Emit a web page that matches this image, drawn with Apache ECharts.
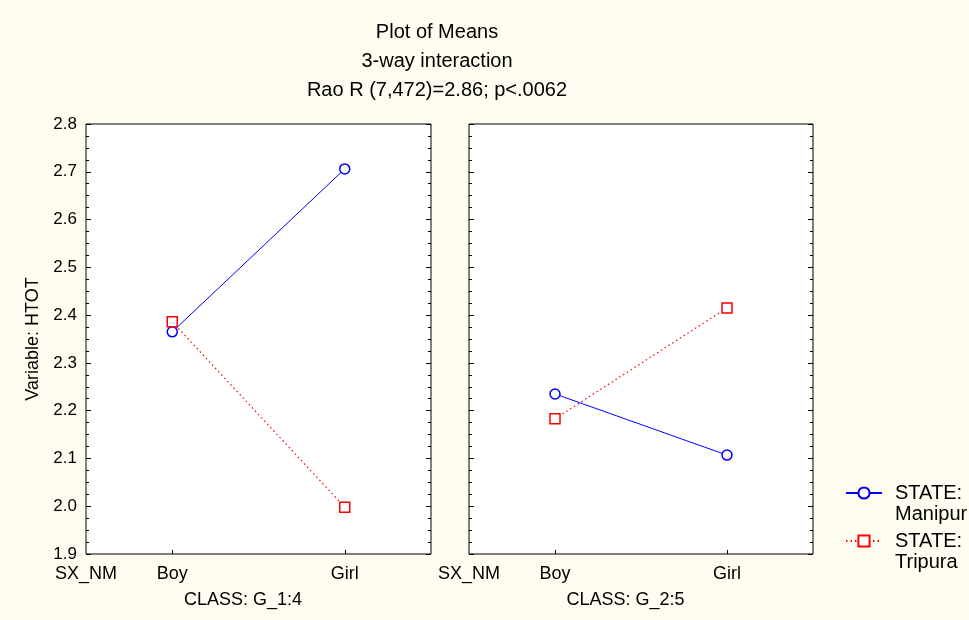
<!DOCTYPE html>
<html>
<head>
<meta charset="utf-8">
<script src="https://cdn.jsdelivr.net/npm/echarts@6/dist/echarts.min.js"></script>
<style>
html,body{margin:0;padding:0;background:#FFFDF0;}
#chart{width:969px;height:620px;}
</style>
</head>
<body>
<div id="chart"></div>
<script>
// ---- data ----
const titleLines = ['Plot of Means', '3-way interaction', 'Rao R (7,472)=2.86; p<.0062'];
const xAxisLabels = ['SX_NM', 'Boy', '_gap', 'Girl', '_end'];
const groups = ['Boy', 'Girl'];
const panelNames = ['CLASS: G_1:4', 'CLASS: G_2:5'];
const seriesNames = ['Manipur', 'Tripura'];
const manipurG14 = [2.365, 2.706];
const tripuraG14 = [2.386, 1.998];
const manipurG25 = [2.235, 2.107];
const tripuraG25 = [2.183, 2.415];
const yMin = 1.9, yMax = 2.8, yStep = 0.1;
const yName = 'Variable: HTOT';
const legendPrefix = 'STATE:';

const font = 'Arial, "Liberation Sans", sans-serif';

function pairs(vals) { return groups.map((g, i) => [g, vals[i]]); }

const grids = [
  {left: 86, top: 124, width: 345, height: 430},
  {left: 469, top: 124, width: 344, height: 430}
].map(g => Object.assign(g, {show: true, backgroundColor: '#fff', borderColor: '#000', borderWidth: 1}));

const xAxes = [0, 1].map(i => ({
  type: 'category', gridIndex: i, data: xAxisLabels, boundaryGap: false,
  axisLine: {show: false},
  axisTick: {show: true, inside: true, length: 4, lineStyle: {color: '#000'},
    interval: (idx, val) => val === 'Boy' || val === 'Girl'},
  axisLabel: {interval: 0, margin: 11, color: '#000', fontFamily: font, fontSize: 18,
    formatter: v => v.charAt(0) === '_' ? '' : v},
  splitLine: {show: false},
  name: panelNames[i], nameLocation: 'middle', nameGap: 37,
  nameTextStyle: {color: '#000', fontFamily: font, fontSize: 18, padding: [0, 31, 0, 0]}
}));

function yAxisDef(gridIndex, position, labels) {
  const ax = {
    type: 'value', gridIndex: gridIndex, position: position,
    min: yMin, max: yMax, interval: yStep,
    axisLine: {show: false},
    axisTick: {show: true, inside: true, length: 5, lineStyle: {color: '#000'}},
    minorTick: {show: true, splitNumber: 4, length: 3, lineStyle: {color: '#000'}},
    splitLine: {show: false},
    axisLabel: {show: labels, margin: 9, color: '#000', fontFamily: font, fontSize: 17,
      formatter: v => v.toFixed(1)}
  };
  if (labels) {
    ax.name = yName; ax.nameLocation = 'middle'; ax.nameGap = 44;
    ax.nameTextStyle = {color: '#000', fontFamily: font, fontSize: 18};
  }
  return ax;
}
const yAxes = [
  yAxisDef(0, 'left', true), yAxisDef(0, 'right', false),
  yAxisDef(1, 'left', false), yAxisDef(1, 'right', false)
];

const styleM = {
  symbol: 'circle', symbolSize: 10,
  itemStyle: {color: '#fff', borderColor: '#0000FF', borderWidth: 1.5},
  lineStyle: {color: '#0000FF', width: 1, type: 'solid'}
};
const styleT = {
  symbol: 'rect', symbolSize: 10,
  itemStyle: {color: '#fff', borderColor: '#FF0000', borderWidth: 1.5},
  lineStyle: {color: '#FF0000', width: 1.2, type: [1.5, 3]}
};

function mk(name, vals, gi, st) {
  return Object.assign({
    type: 'line', name: name, xAxisIndex: gi, yAxisIndex: gi * 2,
    data: pairs(vals), animation: false, emphasis: {disabled: true}
  }, JSON.parse(JSON.stringify(st)));
}

const option = {
  backgroundColor: '#FFFDF0',
  animation: false,
  title: {
    text: titleLines.join('\n'), left: 437, textAlign: 'center', top: 18, padding: 0,
    textStyle: {color: '#000', fontFamily: font, fontSize: 20, fontWeight: 'normal', lineHeight: 29}
  },
  legend: {
    orient: 'vertical', left: 845, top: 461.5, padding: 0, itemGap: -15,
    itemWidth: 36, itemHeight: 14,
    data: seriesNames,
    formatter: n => '\n' + legendPrefix + '\n' + n,
    textStyle: {color: '#000', fontFamily: font, fontSize: 20, lineHeight: 21, padding: [0, 0, 0, 8]}
  },
  grid: grids,
  xAxis: xAxes,
  yAxis: yAxes,
  series: [
    mk(seriesNames[0], manipurG14, 0, styleM),
    mk(seriesNames[1], tripuraG14, 0, styleT),
    mk(seriesNames[0], manipurG25, 1, styleM),
    mk(seriesNames[1], tripuraG25, 1, styleT)
  ]
};
const chart = echarts.init(document.getElementById('chart'));
chart.setOption(option);
</script>
</body>
</html>
